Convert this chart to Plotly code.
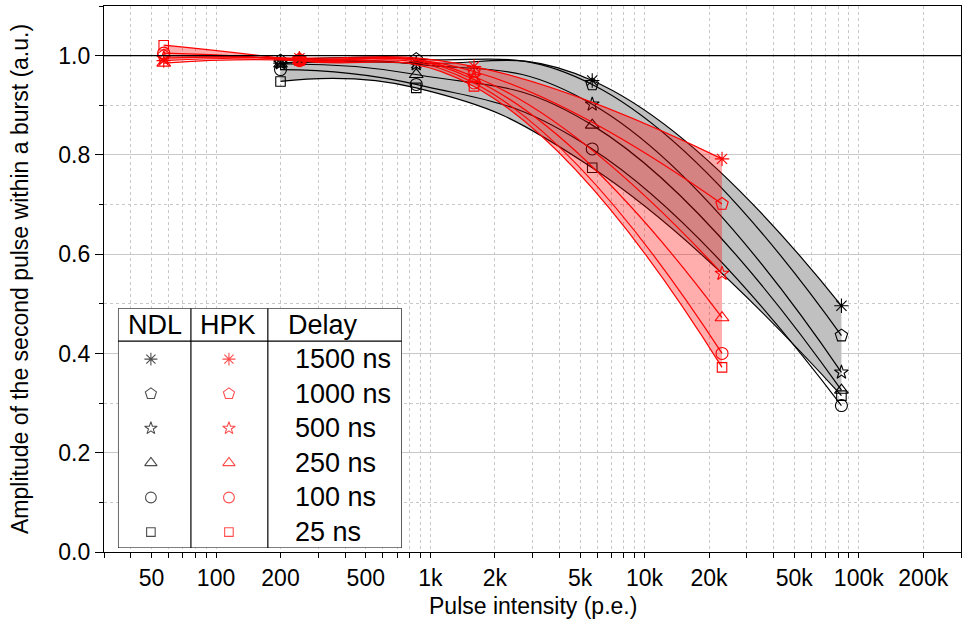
import math
import plotly.graph_objects as go

# ---------------- data ----------------
delays = ["1500 ns", "1000 ns", "500 ns", "250 ns", "100 ns", "25 ns"]
symbols = ["asterisk-open", "pentagon-open", "star-open", "triangle-up-open", "circle-open", "square-open"]
marker_sizes = [12, 13, 10.5, 12, 12, 9.5]

ndl_x = [200, 860, 5700, 83000]
ndl_1500 = [0.985, 0.985, 0.950, 0.496]
ndl_1000 = [0.990, 0.993, 0.942, 0.436]
ndl_500 = [0.985, 0.983, 0.902, 0.362]
ndl_250 = [0.983, 0.962, 0.860, 0.326]
ndl_100 = [0.972, 0.942, 0.812, 0.295]
ndl_25 = [0.948, 0.935, 0.774, 0.315]

hpk_x = [57, 245, 1600, 23000]
hpk_1500 = [0.990, 0.995, 0.978, 0.792]
hpk_1000 = [1.000, 0.993, 0.968, 0.701]
hpk_500 = [0.995, 0.993, 0.958, 0.561]
hpk_250 = [0.985, 0.990, 0.952, 0.472]
hpk_100 = [1.005, 0.990, 0.945, 0.400]
hpk_25 = [1.021, 0.990, 0.938, 0.372]

ndl_series = [ndl_1500, ndl_1000, ndl_500, ndl_250, ndl_100, ndl_25]
hpk_series = [hpk_1500, hpk_1000, hpk_500, hpk_250, hpk_100, hpk_25]

tick_vals = [50, 100, 200, 500, 1e3, 2e3, 5e3, 1e4, 2e4, 5e4, 1e5, 2e5]
tick_text = ["50", "100", "200", "500", "1k", "2k", "5k", "10k", "20k", "50k", "100k", "200k"]
decade_vals = [100, 1e3, 1e4, 1e5]
x_min, x_max = 30, 300000
y_min, y_max = 0.0, 1.1
ref_level = 1.0

# ---------------- style ----------------
FONT = "Arial, Liberation Sans, sans-serif"
GRID = "#c8c8c8"
RED = "rgb(255,0,0)"
SMOOTH = 1.3

fig = go.Figure()

# gray band (NDL)
fig.add_trace(go.Scatter(x=ndl_x, y=ndl_25, mode="lines", line=dict(width=0, shape="spline", smoothing=SMOOTH),
                         hoverinfo="skip", showlegend=False))
fig.add_trace(go.Scatter(x=ndl_x, y=ndl_1500, mode="lines", line=dict(width=0, shape="spline", smoothing=SMOOTH),
                         fill="tonexty", fillcolor="rgb(192,192,192)", hoverinfo="skip", showlegend=False))
# NDL curves + markers
for ys, sym, ms, name in zip(ndl_series, symbols, marker_sizes, delays):
    fig.add_trace(go.Scatter(x=ndl_x, y=ys, mode="lines+markers", name="NDL " + name,
                             line=dict(color="black", width=1.2, shape="spline", smoothing=SMOOTH),
                             marker=dict(symbol=sym, size=ms, color="black",
                                         line=dict(color="black", width=1.1)),
                             showlegend=False))

# red band (HPK)
fig.add_trace(go.Scatter(x=hpk_x, y=hpk_25, mode="lines", line=dict(width=0, shape="spline", smoothing=SMOOTH),
                         hoverinfo="skip", showlegend=False))
fig.add_trace(go.Scatter(x=hpk_x, y=hpk_1500, mode="lines", line=dict(width=0, shape="spline", smoothing=SMOOTH),
                         fill="tonexty", fillcolor="rgba(255,0,0,0.32)", hoverinfo="skip", showlegend=False))
for ys, sym, ms, name in zip(hpk_series, symbols, marker_sizes, delays):
    fig.add_trace(go.Scatter(x=hpk_x, y=ys, mode="lines+markers", name="HPK " + name,
                             line=dict(color=RED, width=1.2, shape="spline", smoothing=SMOOTH),
                             marker=dict(symbol=sym, size=ms, color=RED,
                                         line=dict(color=RED, width=1.1)),
                             showlegend=False))

# ---------------- table legend (own hidden axes) ----------------
row_top, row_step = 0.7875, 0.1442
row_y = [row_top - i * row_step for i in range(len(delays))]
leg_sizes = [s * 0.9 for s in marker_sizes]
fig.add_trace(go.Scatter(x=[0.116] * len(delays), y=row_y, mode="markers", xaxis="x4", yaxis="y3",
                         marker=dict(symbol=symbols, size=leg_sizes, color="black",
                                     line=dict(color="black", width=1.1)),
                         hoverinfo="skip", showlegend=False))
fig.add_trace(go.Scatter(x=[0.391] * len(delays), y=row_y, mode="markers", xaxis="x4", yaxis="y3",
                         marker=dict(symbol=symbols, size=leg_sizes, color=RED,
                                     line=dict(color=RED, width=1.1)),
                         hoverinfo="skip", showlegend=False))

shapes = [
    dict(type="rect", xref="x4", yref="y3", x0=0, x1=1, y0=0, y1=1,
         line=dict(color="black", width=1.2), fillcolor="white", layer="below"),
    dict(type="line", xref="x4", yref="y3", x0=0.257, x1=0.257, y0=0, y1=1,
         line=dict(color="black", width=1.2)),
    dict(type="line", xref="x4", yref="y3", x0=0.528, x1=0.528, y0=0, y1=1,
         line=dict(color="black", width=1.2)),
    dict(type="line", xref="x4", yref="y3", x0=0, x1=1, y0=0.8625, y1=0.8625,
         line=dict(color="black", width=1.2)),
    # reference line at 1.0
    dict(type="line", xref="paper", yref="y", x0=0, x1=1, y0=ref_level, y1=ref_level,
         line=dict(color="black", width=1.3), layer="above"),
]

annotations = []
for txt, xx in [("NDL", 0.13), ("HPK", 0.387), ("Delay", 0.722)]:
    annotations.append(dict(x=xx, y=0.931, xref="x4", yref="y3", text=txt, showarrow=False,
                            xanchor="center", yanchor="middle",
                            font=dict(family=FONT, size=27, color="black")))
for txt, yy in zip(delays, row_y):
    annotations.append(dict(x=0.618, y=yy, xref="x4", yref="y3", text=txt, showarrow=False,
                            xanchor="left", yanchor="middle",
                            font=dict(family=FONT, size=27, color="black")))
annotations.append(dict(x=-0.098, y=0.5, xref="paper", yref="paper",
                        text="Amplitude of the second pulse within a burst (a.u.)",
                        textangle=-90, showarrow=False, xanchor="center", yanchor="middle",
                        font=dict(family=FONT, size=23, color="black")))
annotations.append(dict(x=0.5, y=-0.099, xref="paper", yref="paper",
                        text="Pulse intensity (p.e.)", showarrow=False,
                        xanchor="center", yanchor="middle",
                        font=dict(family=FONT, size=23, color="black")))

xr = [math.log10(x_min), math.log10(x_max)]
fig.update_layout(
    width=964, height=627,
    margin=dict(l=104, r=3, t=6, b=75, autoexpand=False),
    paper_bgcolor="white", plot_bgcolor="white",
    font=dict(family=FONT, size=23, color="black"),
    showlegend=False,
    xaxis=dict(type="log", range=xr, tickmode="array", tickvals=tick_vals, ticktext=tick_text,
               ticks="outside", ticklen=5, tickcolor="black", tickwidth=1, automargin=False,
               showgrid=True, gridcolor=GRID, griddash="3px,3px", gridwidth=1,
               showline=True, linecolor="black", linewidth=1.3, mirror=True, zeroline=False,
               tickfont=dict(family=FONT, size=23, color="black"),
               minor=dict(dtick="D1", ticks="outside", ticklen=5, tickcolor="black",
                          showgrid=True, gridcolor=GRID, griddash="3px,3px")),
    xaxis2=dict(type="log", range=xr, overlaying="x", anchor="y", tickmode="array", automargin=False,
                tickvals=decade_vals, ticks="outside", ticklen=9, tickcolor="black",
                showticklabels=False, showgrid=True, gridcolor=GRID, gridwidth=1.3,
                showline=False, zeroline=False),
    xaxis3=dict(type="log", range=xr, overlaying="x", anchor="y", side="top", tickmode="array",
                automargin=False,
                tickvals=decade_vals, ticks="inside", ticklen=8, tickcolor="black",
                showticklabels=False, showgrid=False, showline=False, zeroline=False,
                minor=dict(dtick="D1", ticks="inside", ticklen=4, tickcolor="black", showgrid=False)),
    yaxis=dict(range=[y_min, y_max], dtick=0.2, tick0=0, tickformat=".1f", automargin=False,
               ticks="outside", ticklen=8, tickcolor="black",
               showgrid=True, gridcolor=GRID, gridwidth=1.3,
               showline=True, linecolor="black", linewidth=1.3, mirror=True, zeroline=False,
               tickfont=dict(family=FONT, size=23, color="black"),
               minor=dict(dtick=0.1, ticks="outside", ticklen=4, tickcolor="black",
                          showgrid=True, gridcolor=GRID, griddash="3px,3px")),
    yaxis2=dict(range=[y_min, y_max], overlaying="y", anchor="x", side="right", dtick=0.2, tick0=0,
                automargin=False,
                ticks="inside", ticklen=8, tickcolor="black", showticklabels=False,
                showgrid=False, showline=False, zeroline=False,
                minor=dict(dtick=0.1, ticks="inside", ticklen=4, tickcolor="black", showgrid=False)),
    xaxis4=dict(domain=[0.0163, 0.3475], range=[0, 1], anchor="y3", visible=False, fixedrange=True,
                automargin=False),
    yaxis3=dict(domain=[0.0073, 0.4466], range=[0, 1], anchor="x4", visible=False, fixedrange=True,
                automargin=False),
    shapes=shapes,
    annotations=annotations,
)

fig.write_html("out.html", config={"displayModeBar": False},
               post_script="document.body.style.margin='0px';")
